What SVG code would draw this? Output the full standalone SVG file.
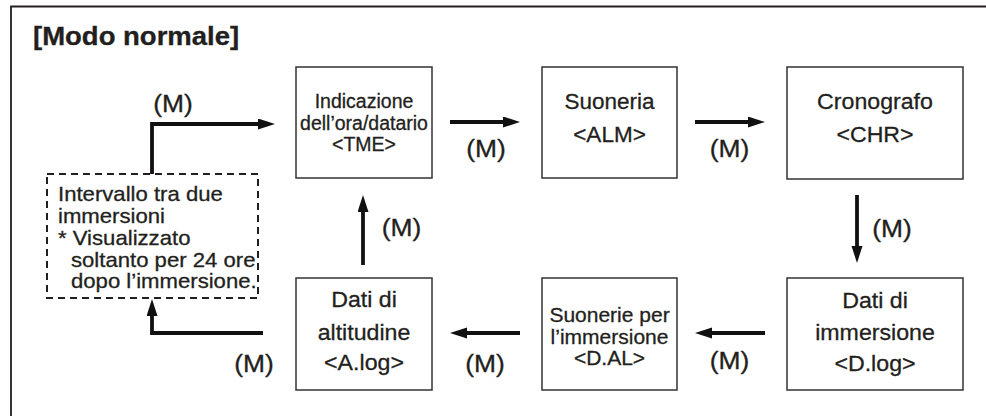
<svg xmlns="http://www.w3.org/2000/svg" width="986" height="416" viewBox="0 0 986 416">
<defs>
<style>
.t{font-family:"Liberation Sans",Arial,sans-serif;fill:#231f20;stroke:#231f20;stroke-width:0.3;text-anchor:middle}
.n{font-size:22.5px}
.s{font-size:19.5px}
.m{font-size:24px}
.box{fill:#fff;stroke:#333;stroke-width:1.5}
.dash{fill:#fff;stroke:#231f20;stroke-width:2;stroke-dasharray:7 5}
.arr{fill:none;stroke:#111;stroke-width:3.8;marker-end:url(#ah)}
</style>
<marker id="ah" markerUnits="userSpaceOnUse" markerWidth="18" markerHeight="12" refX="2" refY="5.5" orient="auto">
<path d="M0,0 L17,5.5 L0,11 Z" fill="#111"/>
</marker>
</defs>
<rect width="986" height="416" fill="#fff"/>
<path d="M11,416 V6.5 H986" fill="none" stroke="#231f20" stroke-width="1.8"/>
<text class="t" font-weight="bold" font-size="25" transform="translate(33,45) scale(1.1,1)" style="text-anchor:start">[Modo normale]</text>

<g id="tme">
<rect class="box" x="296" y="67" width="136" height="111"/>
<text class="t s" transform="translate(364,0)"><tspan x="0" y="108">Indicazione</tspan><tspan x="0" y="130">dell’ora/datario</tspan><tspan x="0" y="151">&lt;TME&gt;</tspan></text>
</g>
<g id="alm">
<rect class="box" x="542" y="67" width="135" height="111"/>
<text class="t n" transform="translate(609.5,0)"><tspan x="0" y="109">Suoneria</tspan><tspan x="0" y="142">&lt;ALM&gt;</tspan></text>
</g>
<g id="chr">
<rect class="box" x="787" y="67" width="176" height="112"/>
<text class="t n" transform="translate(875,0) scale(1.03,1)"><tspan x="0" y="109">Cronografo</tspan><tspan x="0" y="142">&lt;CHR&gt;</tspan></text>
</g>
<g id="dlog">
<rect class="box" x="787" y="278" width="176" height="112"/>
<text class="t n" transform="translate(875,0) scale(1.03,1)"><tspan x="0" y="308">Dati di</tspan><tspan x="0" y="340">immersione</tspan><tspan x="0" y="371">&lt;D.log&gt;</tspan></text>
</g>
<g id="dal">
<rect class="box" x="542" y="278" width="135" height="112"/>
<text class="t" font-size="21" transform="translate(609.5,0)"><tspan x="0" y="322">Suonerie per</tspan><tspan x="0" y="344">l’immersione</tspan><tspan x="0" y="365">&lt;D.AL&gt;</tspan></text>
</g>
<g id="alog">
<rect class="box" x="296" y="278" width="136" height="112"/>
<text class="t n" transform="translate(364,0) scale(1.03,1)"><tspan x="0" y="307">Dati di</tspan><tspan x="0" y="340">altitudine</tspan><tspan x="0" y="370">&lt;A.log&gt;</tspan></text>
</g>
<g id="interval">
<rect class="dash" x="47" y="174" width="211" height="124"/>
<text class="t" font-size="20.5" style="text-anchor:start" transform="translate(58,0) scale(1.08,1)"><tspan x="0" y="201">Intervallo tra due</tspan><tspan x="0" y="223">immersioni</tspan><tspan x="0" y="245">* Visualizzato</tspan><tspan x="12" y="267">soltanto per 24 ore</tspan><tspan x="12" y="288">dopo l’immersione.</tspan></text>
</g>

<g id="connectors">
<path class="arr" d="M152,174 V124 H260"/>
<path class="arr" d="M450,122 H505"/>
<path class="arr" d="M695,122 H750"/>
<path class="arr" d="M857,195 V248"/>
<path class="arr" d="M765,333 H710"/>
<path class="arr" d="M520,333 H465"/>
<path class="arr" d="M263,333 H152 V314"/>
<path class="arr" d="M363,265 V210"/>
<g class="t m">
<text transform="translate(173,112) scale(1.1,1)">(M)</text>
<text transform="translate(486,157) scale(1.1,1)">(M)</text>
<text transform="translate(729.5,157) scale(1.1,1)">(M)</text>
<text transform="translate(892,237) scale(1.1,1)">(M)</text>
<text transform="translate(729.5,369) scale(1.1,1)">(M)</text>
<text transform="translate(485,372) scale(1.1,1)">(M)</text>
<text transform="translate(254,372) scale(1.1,1)">(M)</text>
<text transform="translate(401.5,236) scale(1.1,1)">(M)</text>
</g>
</g>
</svg>
